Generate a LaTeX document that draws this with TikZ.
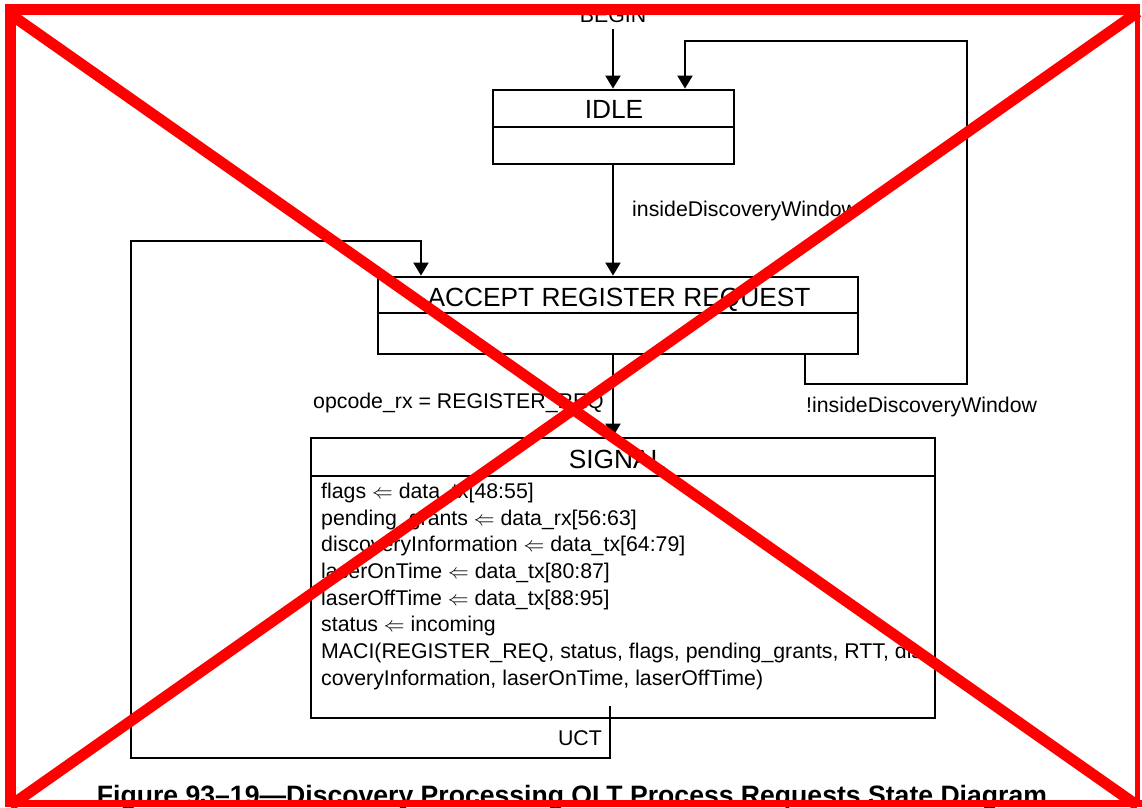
\documentclass[tikz,border=0pt]{standalone}
\usepackage{fontspec}
\setmainfont{Liberation Sans}
\usetikzlibrary{arrows.meta}

\begin{document}
\begin{tikzpicture}[x=1pt,y=-1pt,
  statebox/.style={draw, line width=2.8pt, inner sep=0pt},
  divider/.style={line width=2.8pt},
  title/.style={font=\fontsize{26.3}{30}\selectfont, inner sep=0pt, anchor=base},
  lbl/.style={font=\fontsize{21.3}{26.67}\selectfont, inner sep=0pt},
  wire/.style={line width=2pt},
  flow/.style={wire, -{Triangle[length=13pt,width=15pt]}},
  caption/.style={font=\fontsize{26.6}{30}\selectfont\bfseries, inner sep=0pt, anchor=base},
  cross/.style={red, line width=11pt}]
\useasboundingbox (0,0) rectangle (1142,807);
\fill[white] (0,0) rectangle (1142,807);

% ---- states ----
\node[statebox, minimum width=241pt, minimum height=74pt] (idle) at (613.5,127) {};
\draw[divider] (idle.west |- 0,127) -- (idle.east |- 0,127);
\node[title] (idleT) at (614,118.3) {IDLE};

\node[statebox, minimum width=480pt, minimum height=77pt] (arr) at (618,315.5) {};
\draw[divider] (arr.west |- 0,313) -- (arr.east |- 0,313);
\node[title] (arrT) at (619,306.7) {ACCEPT REGISTER REQUEST};

\node[statebox, minimum width=624pt, minimum height=280pt] (sig) at (623,578) {};
\draw[divider] (sig.west |- 0,476) -- (sig.east |- 0,476);
\node[title] (sigT) at (617,468.3) {SIGNAL};

\node[lbl, anchor=base west] (b1) at (321,498.3) {flags $\Leftarrow$ data\_tx[48:55]};
\node[lbl, anchor=base west] (b2) at (321,525) {pending\_grants $\Leftarrow$ data\_rx[56:63]};
\node[lbl, anchor=base west] (b3) at (321,551.7) {discoveryInformation $\Leftarrow$ data\_tx[64:79]};
\node[lbl, anchor=base west] (b4) at (321,578.3) {laserOnTime $\Leftarrow$ data\_tx[80:87]};
\node[lbl, anchor=base west] (b5) at (321,605) {laserOffTime $\Leftarrow$ data\_tx[88:95]};
\node[lbl, anchor=base west] (b6) at (321,631.7) {status $\Leftarrow$ incoming};
\node[lbl, anchor=base west] (b7) at (321,658.3) {MACI(REGISTER\_REQ, status, flags, pending\_grants, RTT, dis};
\node[lbl, anchor=base west] (b8) at (321,685) {coveryInformation, laserOnTime, laserOffTime)};

% ---- transitions ----
\node[lbl, anchor=base] (begin) at (613,22) {BEGIN};
\draw[flow] (begin.south) ++(0,7) -- (idle.north -| begin.south);

\draw[flow] ({613,0} |- idle.south) -- ({613,0} |- arr.north);
\node[lbl, anchor=base west] (tIn) at (632,216.7) {insideDiscoveryWindow};

\draw[flow] (arr.south -| {805,0}) -- (805,384) -- (967,384) -- (967,41) -- (685,41)
  -- ({685,0} |- idle.north);
\node[lbl, anchor=base west] (tOut) at (806,412) {!insideDiscoveryWindow};

\draw[flow] ({613,0} |- arr.south) -- ({613,0} |- sig.north);
\node[lbl, anchor=base west] (tReq) at (313,408) {opcode\_rx = REGISTER\_REQ};

\coordinate (uctFrom) at (610,706);
\draw[flow] (uctFrom) -- (610,758) -- (131,758) -- (131,241) -- (421,241)
  -- ({421,0} |- arr.north);
\node[lbl, anchor=base east] (tUct) at (602,745) {UCT};

\node[caption] (cap) at (572,804) {Figure 93--19---Discovery Processing OLT Process Requests State Diagram};

% ---- red frame and cross ----
\fill[red] (5,4) rectangle (16,807);
\fill[red] (5,4) rectangle (1140,15);
\fill[red] (1135,4) rectangle (1140,807);
\fill[red] (5,800) rectangle (1142,807);
\draw[cross] (10,14) -- (1138,806);
\draw[cross] (1138,12) -- (10,806);
\end{tikzpicture}
\end{document}
